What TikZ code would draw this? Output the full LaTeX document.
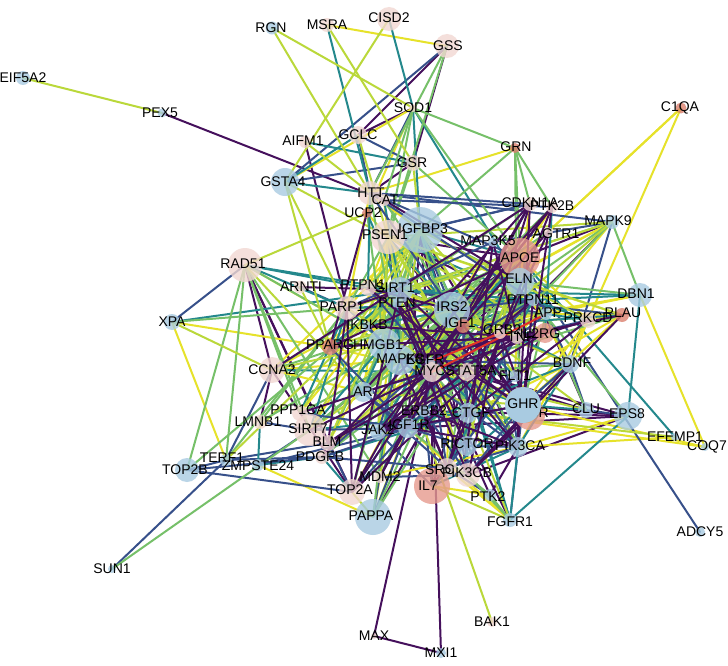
\documentclass[tikz,border=0pt]{standalone}
\usepackage{fontspec}
\newfontfamily\labfam{Liberation Sans}
\newcommand\lblfont{\labfam\fontsize{14}{15}\selectfont}
\usetikzlibrary{calc}
\definecolor{vP}{HTML}{45105C}
\definecolor{vN}{HTML}{37508A}
\definecolor{vT}{HTML}{24888C}
\definecolor{vG}{HTML}{76C069}
\definecolor{vL}{HTML}{BAD83A}
\definecolor{vY}{HTML}{E6E22A}
\definecolor{vR}{HTML}{E0302A}
\definecolor{cB}{HTML}{A9CBE1}
\definecolor{cP}{HTML}{F2D8D2}
\definecolor{cS}{HTML}{E69A8E}
\definecolor{cR}{HTML}{DB806E}
\tikzset{
  vtx/.style={circle, inner sep=0pt, draw=none, fill opacity=0.8},
  lab/.style={font=\lblfont, inner sep=0pt, text=black},
  edge/.style={line width=2pt, line cap=round},
  eP/.style={edge, draw=vP},
  eN/.style={edge, draw=vN},
  eT/.style={edge, draw=vT},
  eG/.style={edge, draw=vG},
  eL/.style={edge, draw=vL},
  eY/.style={edge, draw=vY},
  eR/.style={edge, draw=vR},
}
% edge lists
\def\LYa{MSRA/GSS, SOD1/GSTA4, SOD1/UCP2, GRN/HTT, C1QA/APOE, C1QA/AGTR1, C1QA/PRKCD, MAPK9/IRS2,
 MAPK9/TNF, MAPK9/HMGB1, DBN1/COQ7, DBN1/APP, DBN1/IGF1, COQ7/GHR, COQ7/CTGF, EFEMP1/PIK3CA, EPS8/PIK3CA,
 XPA/TERF1, XPA/PPARG, RAD51/MYC, CCNA2/PTEN, CCNA2/MAPK8, CCNA2/IGFBP3, ZMPSTE24/PAPPA, PAPPA/MDM2,
 PAPPA/IRS2, IL7/PTK2, FGFR1/SRC, FGFR1/IGF1R, IGFBP3/PTPN1, IGFBP3/PARP1, IGFBP3/HMGB1, IGFBP3/PPARG,
 PSEN1/IKBKB, PSEN1/AR, PSEN1/PTPN1, PSEN1/ELN, PSEN1/IGF1, APOE/PTPN11, APOE/GRB2, APOE/PRKCD, APOE/FLT1}
\def\LYb{ELN/IRS2, ELN/BDNF, ELN/PLAU, IRS2/TNF, IRS2/GRB2, IGF1/APP, IGF1/PLAU, IGF1/TNF, SIRT1/IGF1, SIRT1/PPARG,
 PTEN/IGF1, MAPK8/PARP1, MAPK8/AR, HMGB1/IKBKB, HMGB1/MAPK8, EGFR/IRS2, MYC/PPARG, GHR/PLAU, GHR/PRKCD,
 CTGF/BDNF, RICTOR/SIRT1, PIK3CA/PRKCD, SRC/IRS2, JAK2/SIRT1, AR/IRS2, TNF/PTPN1, IL2RG/PRKCD, PRKCD/PLAU,
 PRKCD/BDNF, APP/PLAU, FLT1/PLAU, PPARG/PTEN, IKBKB/PTEN, PTPN1/SIRT1, MDM2/PIK3CA, TOP2A/IRS2, SIRT7/SIRT1,
 BLM/HMGB1, PDGFB/IGF1, PPP1CA/SIRT1, CDKN1A/ELN, PTK2B/APOE, HTT/PARP1, HTT/IGFBP3, CAT/PSEN1, UCP2/PSEN1,
 MAP3K5/IRS2, CCNA2/AR}
\def\LGa{GSS/HTT, GSS/PSEN1, SOD1/GRN, SOD1/PSEN1, SOD1/APOE, SOD1/CAT, GSR/PSEN1, GSR/APOE,
 GRN/CDKN1A, GRN/APOE, GRN/PTK2B, GRN/IGFBP3, GRN/TNF, MAPK9/DBN1, MAPK9/IGF1, MAPK9/STAT5A, MAPK9/SIRT1,
 DBN1/ELN, EPS8/PTPN11, CLU/APP, XPA/PARP1, TOP2B/RAD51, SUN1/SIRT7, TERF1/RAD51, TERF1/PARP1, LMNB1/PARP1,
 RAD51/HMGB1, RAD51/MDM2, RAD51/SIRT7, RAD51/PPP1CA, CCNA2/SIRT1, PAPPA/IGF1, PAPPA/SIRT1, FGFR1/PTK2,
 FGFR1/PIK3CB, PTK2/IGF1R, IGFBP3/ELN, IGFBP3/SIRT1, IGFBP3/IGF1, IGFBP3/CTGF, IGFBP3/AR, PSEN1/SIRT1,
 PSEN1/PARP1, PSEN1/HMGB1, PSEN1/MYC, APOE/SIRT1, APOE/HMGB1, APOE/STAT5A}
\def\LGb{ELN/MYC, ELN/HMGB1, IRS2/HMGB1,
 IRS2/MAPK8, IRS2/AR, IGF1/MYC, IGF1/IRS2, SIRT1/IKBKB, SIRT1/MAPK8, SIRT1/AR, PTEN/HMGB1, PTEN/IGF1R,
 MAPK8/GHR, MAPK8/PTPN11, HMGB1/MYC, EGFR/IGF1, MYC/STAT5A, GHR/TNF, GHR/APP, ERBB2/IRS2, CTGF/MYC,
 RICTOR/IRS2, PIK3CA/IGF1, SRC/STAT5A, JAK2/MYC, AR/IGF1, TNF/IRS2, IL2RG/IRS2, GRB2/IRS2, PTPN11/MYC,
 APP/IRS2, BDNF/STAT5A, FLT1/MAPK8, PPARG/HMGB1, IKBKB/APOE, PARP1/IRS2, PTPN1/IGFBP3, MDM2/IRS2,
 TOP2A/SIRT1, SIRT7/IRS2, BLM/SIRT1, PDGFB/MYC, PPP1CA/MAPK8, CDKN1A/SIRT1, PTK2B/MAPK8, HTT/MAPK8,
 CAT/IGF1, UCP2/HMGB1, AGTR1/HMGB1, PLAU/MYC, LMNB1/IRS2, CCNA2/IRS2, TOP2A/IGFBP3, PAPPA/ELN,
 SIRT7/APOE, TOP2B/SIRT1}
\def\LTa{MSRA/HTT, CISD2/SOD1, SOD1/IGFBP3, SOD1/ELN, AIFM1/GSR, GCLC/GSTA4, GSTA4/HTT,
 DBN1/PTPN11, DBN1/EPS8, EFEMP1/APOE, EPS8/FGFR1, XPA/SIRT1, ZMPSTE24/LMNB1, RAD51/PARP1, RAD51/SIRT1,
 RAD51/PTPN1, CCNA2/MYC, IL7/PIK3CA, FGFR1/PIK3CA, FGFR1/STAT5A, SIRT1/DBN1, IGFBP3/APOE, IGFBP3/PIK3CA,
 IGFBP3/FGFR1, PSEN1/IRS2, PSEN1/PTPN11, APOE/TNF, APOE/MYC, APOE/EGFR, ELN/PTPN11, ELN/IGF1, IRS2/MYC,
 IRS2/BDNF, IGF1/MAPK8, IGF1/PTPN11, SIRT1/PTPN11, SIRT1/HMGB1}
\def\LTb{PTEN/MAPK8, MAPK8/MYC, MAPK8/TNF,
 MAPK8/STAT5A, HMGB1/SIRT7, HMGB1/PARP1, EGFR/PIK3CA, MYC/GHR, STAT5A/IGF1R, GHR/CLU, CTGF/PDGFB,
 CTGF/SIRT7, RICTOR/PTEN, PIK3CA/BDNF, SRC/PTPN11, JAK2/IRS2, AR/PPARG, AR/HMGB1, TNF/BDNF, IL2RG/GRB2,
 PTPN11/PRKCD, APP/PRKCD, BDNF/IGF1R, FLT1/IGF1, PPARG/SIRT1, IKBKB/IRS2, PARP1/PTPN11, PTPN1/PTPN11,
 MDM2/SIRT1, TOP2A/MYC, SIRT7/PARP1, PDGFB/TOP2A, PPP1CA/PARP1, CDKN1A/IGF1, PTK2B/IL2RG, HTT/PTPN1,
 CAT/SIRT1, UCP2/SIRT1, PLAU/IGF1, ZMPSTE24/PDGFB, IL7/BDNF}
\def\LLa{EIF5A2/PEX5, RGN/SOD1, RGN/HTT, MSRA/GSR, CISD2/GSTA4, AIFM1/HTT, GCLC/PSEN1,
 GSR/IGFBP3, GSTA4/PSEN1, GSTA4/PARP1, GSTA4/PPARG, MAPK9/PSEN1, MAPK9/MYC, MAPK9/PARP1, EFEMP1/CTGF,
 CLU/MYC, XPA/CCNA2, TERF1/SIRT1, RAD51/UCP2, RAD51/AR, ARNTL/PPARG, BAK1/MAPK8, PAPPA/TOP2A, IL7/FGFR1,
 FGFR1/CTGF, PSEN1/STAT5A, IGFBP3/TNF, APOE/PARP1, ELN/SIRT7}
\def\LLb{IRS2/PPARG, MAPK8/APP, HMGB1/GHR,
 MYC/PTPN11, SIRT1/GRB2, PTEN/STAT5A, IGF1/HMGB1, AR/GHR, CTGF/APOE, PIK3CB/SIRT1, PARP1/EGFR,
 CCNA2/HMGB1, BLM/IGFBP3, PDGFB/APOE, SIRT7/IGFBP3, PPP1CA/IGFBP3, MDM2/IGFBP3, JAK2/PSEN1,
 ERBB2/PSEN1, RICTOR/APOE, PIK3CA/PSEN1, PRKCD/IGFBP3, PLAU/PSEN1, BDNF/SIRT1, FLT1/IGFBP3, CLU/IRS2,
 IL2RG/PSEN1, TNF/SIRT1, APP/MYC, GRB2/MAPK8}
\def\LNa{GSS/GSTA4, GCLC/GSR, GCLC/HTT, GSR/GSTA4, SOD1/HTT, MAPK9/HTT, MAPK9/BDNF,
 MAPK9/MAP3K5, EPS8/CLU, ADCY5/APOE, CLU/BDNF, XPA/RAD51, TOP2B/TOP2A, TOP2B/TERF1, SUN1/TERF1,
 TERF1/PDGFB, TERF1/BLM, TERF1/CCNA2, ZMPSTE24/SIRT7, ZMPSTE24/IGF1R, LMNB1/SIRT7, ARNTL/PARP1,
 PAPPA/IGFBP3, PAPPA/IGF1R, IL7/JAK2, IL7/ERBB2, FGFR1/GHR, PTK2/SRC, IGFBP3/IRS2, IGFBP3/CDKN1A,
 PSEN1/CDKN1A, PSEN1/MAPK8, APOE/IGF1, APOE/BDNF, IRS2/STAT5A, IGF1/STAT5A, IGF1/PIK3CB, SIRT1/PTEN,
 SIRT1/IRS2, SIRT1/APP, SIRT1/PLAU, PTEN/EGFR, PTEN/MDM2}
\def\LNb{MAPK8/JAK2, MAPK8/PIK3CA, MAPK8/BDNF,
 HMGB1/TNF, EGFR/STAT5A, EGFR/SRC, EGFR/PTPN11, MYC/ERBB2, MYC/AR, STAT5A/PIK3CA, GHR/IGF1R, GHR/PIK3CB,
 ERBB2/GRB2, ERBB2/PIK3CB, CTGF/TNF, CTGF/IGF1, RICTOR/PIK3CA, RICTOR/IGF1R, SRC/PIK3CA, JAK2/ERBB2,
 AR/SRC, AR/IGF1R, TNF/APP, TNF/PRKCD, GRB2/PTPN11, GRB2/PIK3CA, PTPN11/IRS2, BDNF/GHR, FLT1/SRC,
 PPARG/IGF1R, IKBKB/MAPK8, PTPN1/EGFR, MDM2/PIK3CB, TOP2A/ERBB2, SIRT7/IGF1R, BLM/TOP2A, PDGFB/IGF1R,
 PDGFB/SRC, PDGFB/EGFR, PPP1CA/IGF1R, HTT/IRS2, HTT/PTPN11, HTT/APOE, CAT/PTK2B, MAP3K5/PARP1,
 HTT/CDKN1A, TOP2B/PDGFB}
\def\LPa{PEX5/CAT, GSS/GCLC, GSS/GSR, SOD1/GCLC, AIFM1/PARP1, GSR/HTT, MAPK9/APOE, MAPK9/IGF1R,
 EPS8/EGFR, EPS8/GHR, EPS8/IGF1R, EPS8/PIK3CB, EPS8/ERBB2, CLU/EGFR, CLU/APOE, RAD51/CCNA2, RAD51/BLM,
 RAD51/TOP2A, CCNA2/TOP2A, LMNB1/CCNA2, ARNTL/SIRT1, MAX/MXI1, MAX/MYC, MXI1/MYC, PAPPA/APOE, IL7/IL2RG,
 IL7/STAT5A, IL7/MYC, FGFR1/EGFR, PTK2/PIK3CA, PTK2/EGFR, IGFBP3/IGF1R, IGFBP3/MYC, IGFBP3/STAT5A,
 IGFBP3/GHR, IGFBP3/PIK3CB, PSEN1/APP, PSEN1/EGFR, PSEN1/GHR, APOE/PSEN1, APOE/APP, APOE/IRS2,
 APOE/MAPK8, APOE/PIK3CA, APOE/SIRT7, ELN/PIK3CA, ELN/EGFR, IRS2/PIK3CA, IRS2/PIK3CB, IRS2/GHR,
 IRS2/IGF1R, IRS2/JAK2, IGF1/IGF1R, IGF1/GHR, IGF1/PIK3CA}
\def\LPb{SIRT1/MYC, SIRT1/PARP1, SIRT1/TOP2A,
 SIRT1/CTGF, SIRT1/GHR, PTEN/PIK3CA, PTEN/PIK3CB, PTEN/RICTOR, MAPK8/IL2RG, MAPK8/PLAU, MAPK8/SRC,
 EGFR/ERBB2, EGFR/PTK2B, MYC/CDKN1A, MYC/MDM2, MYC/TOP2A, STAT5A/JAK2, STAT5A/GHR,
 GHR/JAK2, GHR/PTPN11, GHR/PTK2B, INSR/IRS2, INSR/GRB2, INSR/PTPN1, INSR/PIK3CB,
 IGF1R/PIK3CA, ERBB2/PIK3CA, ERBB2/SRC, CTGF/AGTR1, CTGF/PRKCD, PIK3CA/CDKN1A, SRC/PTK2B,
 SRC/CDKN1A, RICTOR/MAP3K5, JAK2/PTK2B, AR/CDKN1A, TNF/TOP2A, TNF/PPARG, TNF/BLM, IL2RG/JAK2,
 GRB2/PIK3CB, PTPN11/JAK2, BDNF/PIK3CB, PPARG/APOE, IKBKB/TNF, PARP1/TOP2A, PARP1/BLM,
 PTPN1/IRS2, MDM2/CDKN1A, TOP2A/MAP3K5, SIRT7/MYC, BLM/MYC, PDGFB/PTK2B,
 PPP1CA/PRKCD, CDKN1A/CCNA2, AGTR1/EGFR, CAT/ELN, UCP2/PPARG, PLAU/PIK3CB, MAP3K5/TNF}
\begin{document}
\begin{tikzpicture}[x=1pt,y=-1pt]
\fill[white] (0,0) rectangle (728,666);
\useasboundingbox (0,0) rectangle (728,666);
% node positions (named coordinates, so that edges can be drawn first)
\foreach \id/\x/\y in {INSR/530/415, RGN/272/28, MSRA/327/25, CISD2/389/19, GSS/447/46,
 EIF5A2/23/78, PEX5/162/113, C1QA/681/108, SOD1/413/108, AIFM1/305/142,
 GCLC/358/135, GRN/515/148, GSR/413/163, GSTA4/285/182, HTT/370/193,
 CAT/384/200, UCP2/367/213, CDKN1A/530/204, PTK2B/552/207, MAPK9/612/222,
 MAP3K5/493/242, AGTR1/548/232, PSEN1/388/237, IGFBP3/420/230, APOE/520/258,
 ELN/520/282, RAD51/245/265, ARNTL/300/287, PTPN1/368/288, SIRT1/400/290,
 PTEN/397/303, PARP1/347/308, IRS2/452/310, IGF1/463/326, GRB2/500/333,
 TNF/517/337, IL2RG/545/333, PTPN11/533/300, APP/546/314, PRKCD/588/320,
 PLAU/622/315, DBN1/640/295, XPA/172/322, IKBKB/367/326, HMGB1/384/344,
 PPARG/330/347, MAPK8/400/360, EGFR/430/362, MYC/432/372, STAT5A/467/372,
 FLT1/515/376, BDNF/570/364, CCNA2/272/370, AR/363/392, ERBB2/424/411,
 CTGF/468/413, GHR/523/405, CLU/586/410, EPS8/628/416, EFEMP1/675/437,
 COQ7/705/447, PPP1CA/300/413, LMNB1/260/422, SIRT7/310/430, BLM/328/443,
 JAK2/378/432, IGF1R/408/428, PDGFB/322/457, RICTOR/467/446, PIK3CA/518/447,
 SRC/447/468, PIK3CB/468/475, IL7/432/486, PTK2/490/495, FGFR1/510/520,
 MDM2/380/477, TOP2A/352/492, PAPPA/373/517, TERF1/226/460, TOP2B/187/470,
 ZMPSTE24/258/465, ADCY5/700/532, SUN1/112/569, BAK1/492/622, MAX/374/636,
 MXI1/441/653}
  {\coordinate (\id) at (\x,\y);}
% edges, interleaved by colour
\foreach \a/\b in \LPa {\draw[eP] (\a) -- (\b);}
\foreach \a/\b in \LYa {\draw[eY] (\a) -- (\b);}
\foreach \a/\b in \LNa {\draw[eN] (\a) -- (\b);}
\foreach \a/\b in \LTa {\draw[eT] (\a) -- (\b);}
\foreach \a/\b in \LGa {\draw[eG] (\a) -- (\b);}
\foreach \a/\b in \LLa {\draw[eL] (\a) -- (\b);}
\foreach \a/\b in \LYb {\draw[eY] (\a) -- (\b);}
\foreach \a/\b in \LGb {\draw[eG] (\a) -- (\b);}
\foreach \a/\b in \LTb {\draw[eT] (\a) -- (\b);}
\foreach \a/\b in \LLb {\draw[eL] (\a) -- (\b);}
\foreach \a/\b in \LNb {\draw[eN] (\a) -- (\b);}
\foreach \a/\b in \LPb {\draw[eP] (\a) -- (\b);}
\foreach \a/\b in {EGFR/GRB2, MYC/APP} {\draw[eR] (\a) -- (\b);}
% hidden-label node drawn before GHR, which covers most of it
\node[vtx, minimum size=30pt, fill=cS] (n-INSR) at (INSR) {};
\node[lab] (l-INSR) at ($(INSR)+(2,-2)$) {INSR};
\node[vtx, minimum size=36pt, fill=cB, fill opacity=1] (n-GHR) at (GHR) {};
% node circles
\foreach \id/\d/\c in {RGN/13/cB, MSRA/14/cP, CISD2/24/cP, GSS/24/cP,
 EIF5A2/14/cB, PEX5/9/cB, C1QA/11/cR, SOD1/8/cP, AIFM1/12/cP,
 GCLC/18/cP, GRN/10/cR, GSR/16/cP, GSTA4/28/cB, HTT/24/cP,
 CAT/12/cP, UCP2/10/cR, CDKN1A/14/cP, PTK2B/12/cP, MAPK9/14/cB,
 MAP3K5/10/cB, AGTR1/10/cP, IGFBP3/46/cB, PSEN1/34/cP, APOE/40/cS,
 ELN/28/cB, RAD51/34/cP, ARNTL/13/cP, PTPN1/16/cP, SIRT1/26/cB,
 PTEN/10/cB, PARP1/24/cP, IRS2/36/cB, IGF1/14/cR, GRB2/12/cP,
 TNF/14/cP, IL2RG/20/cS, PTPN11/12/cB, APP/12/cB, PRKCD/16/cP,
 PLAU/14/cR, DBN1/24/cB, XPA/16/cB, IKBKB/10/cB, HMGB1/32/cB,
 PPARG/16/cR, MAPK8/30/cB, EGFR/10/cB, MYC/20/cP, STAT5A/18/cP,
 FLT1/12/cB, BDNF/18/cB, CCNA2/26/cP, AR/20/cB, ERBB2/12/cB,
 CTGF/20/cB, CLU/16/cB, EPS8/28/cB, EFEMP1/8/cB,
 COQ7/8/cB, PPP1CA/16/cP, LMNB1/14/cP, SIRT7/32/cP, BLM/16/cP,
 JAK2/16/cB, IGF1R/20/cB, PDGFB/14/cP, RICTOR/20/cB, PIK3CA/20/cB,
 SRC/20/cP, PIK3CB/24/cP, IL7/36/cS, PTK2/12/cB, FGFR1/14/cB,
 MDM2/12/cP, TOP2A/26/cP, PAPPA/36/cB, TERF1/12/cB, TOP2B/24/cB,
 ZMPSTE24/12/cB, ADCY5/10/cB, SUN1/8/cB, BAK1/10/cP, MAX/6/cP,
 MXI1/10/cB}
  {\node[vtx, minimum size=\d pt, fill=\c] (n-\id) at (\id) {};}
% labels
\foreach \id/\x/\y/\t in {RGN/271/28/RGN, MSRA/327/25/MSRA, CISD2/389/18/CISD2, GSS/448/46/GSS,
 EIF5A2/23/78/EIF5A2, PEX5/160/113/PEX5, C1QA/680/108/C1QA, SOD1/413/108/SOD1, AIFM1/303/141/AIFM1,
 GCLC/358/135/GCLC, GRN/516/147/GRN, GSR/412/163/GSR, GSTA4/283/182/GSTA4, HTT/371/193/HTT,
 CAT/385/200/CAT, UCP2/363/213/UCP2, CDKN1A/530/203/CDKN1A, PTK2B/552/206/PTK2B, MAPK9/608/221/MAPK9,
 MAP3K5/488/241/MAP3K5, AGTR1/556/234/AGTR1, PSEN1/385/235/PSEN1, IGFBP3/423/229/IGFBP3,
 APOE/520/258/APOE, ELN/519/279/ELN, RAD51/243/264/RAD51, ARNTL/303/287/ARNTL, PTPN1/363/285/PTPN1,
 SIRT1/395/288/SIRT1, PTEN/397/303/PTEN, PARP1/342/307/PARP1, IRS2/452/307/IRS2, IGF1/460/323/IGF1,
 GRB2/502/330/GRB2, TNF/521/337/TNF, IL2RG/540/334/IL2RG, PTPN11/533/300/PTPN11, APP/548/313/APP,
 PRKCD/588/318/PRKCD, PLAU/623/313/PLAU, DBN1/636/294/DBN1, XPA/172/322/XPA, IKBKB/367/325/IKBKB,
 HMGB1/378/345/HMGB1, PPARG/330/345/PPARG, MAPK8/400/359/MAPK8, EGFR/425/360/EGFR, MYC/430/371/MYC,
 STAT5A/471/371/STAT5A, FLT1/515/376/FLT1, BDNF/572/363/BDNF, CCNA2/272/370/CCNA2, AR/363/392/AR,
 ERBB2/424/411/ERBB2, CTGF/471/413/CTGF, GHR/523/404/GHR, CLU/586/409/CLU, EPS8/627/414/EPS8,
 EFEMP1/675/437/EFEMP1, COQ7/707/447/COQ7, PPP1CA/298/410/PPP1CA, LMNB1/258/422/LMNB1,
 SIRT7/308/429/SIRT7, BLM/327/442/BLM, JAK2/378/430/JAK2, IGF1R/409/425/IGF1R, PDGFB/320/457/PDGFB,
 RICTOR/467/444/RICTOR, PIK3CA/520/446/PIK3CA, SRC/440/470/SRC, PIK3CB/467/473/PIK3CB, IL7/428/486/IL7,
 PTK2/488/497/PTK2, FGFR1/510/522/FGFR1, MDM2/380/477/MDM2, TOP2A/350/490/TOP2A, PAPPA/371/516/PAPPA,
 TERF1/222/458/TERF1, TOP2B/185/470/TOP2B, ZMPSTE24/258/466/ZMPSTE24, ADCY5/700/532/ADCY5,
 SUN1/112/569/SUN1, BAK1/492/622/BAK1, MAX/374/636/MAX, MXI1/441/653/MXI1}
  {\node[lab] (l-\id) at (\x,\y) {\t};}
\end{tikzpicture}
\end{document}
